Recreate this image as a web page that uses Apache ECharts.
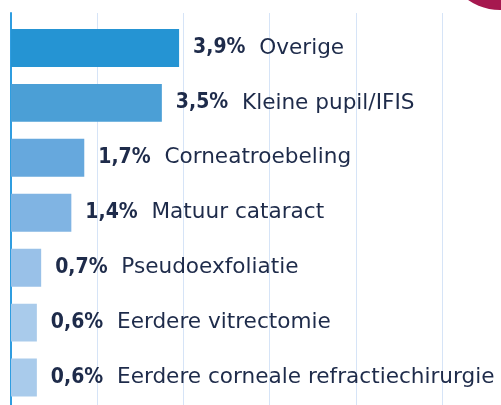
<!DOCTYPE html>
<html>
<head>
<meta charset="utf-8">
<script src="https://cdn.jsdelivr.net/npm/echarts@6/dist/echarts.min.js"></script>
<style>
html,body{margin:0;padding:0;background:#fff;}
#chart{width:501px;height:405px;}
</style>
</head>
<body>
<div id="chart"></div>
<script>
var categories = ['Overige', 'Kleine pupil/IFIS', 'Corneatroebeling', 'Matuur cataract', 'Pseudoexfoliatie', 'Eerdere vitrectomie', 'Eerdere corneale refractiechirurgie'];
var values = [3.9, 3.5, 1.7, 1.4, 0.7, 0.6, 0.6];
var valueLabels = ['3,9%', '3,5%', '1,7%', '1,4%', '0,7%', '0,6%', '0,6%'];
var barColors = ['#2594d3', '#4b9fd6', '#66a8dd', '#80b4e3', '#99c1e8', '#a9cbeb', '#a9cbeb'];
var xTicks = [0, 2, 4, 6, 8, 10];

var chart = echarts.init(document.getElementById('chart'), null, {renderer: 'canvas'});
var textColor = '#1e2b4a';

var data = values.map(function (v, i) {
  return {value: v, itemStyle: {color: barColors[i]}};
});

var option = {
  animation: false,
  grid: [
    {left: 11, right: 59, top: 13, bottom: 0},
    {left: 11, right: 59, top: 20.5, height: 385}
  ],
  xAxis: [
    {
      gridIndex: 0, type: 'value', min: xTicks[0], max: xTicks[xTicks.length - 1], interval: 2,
      axisLine: {show: false}, axisTick: {show: false}, axisLabel: {show: false},
      splitLine: {show: true, lineStyle: {color: '#d6e4f7', width: 1}}
    },
    {
      gridIndex: 1, type: 'value', min: xTicks[0], max: xTicks[xTicks.length - 1], interval: 2,
      show: false, splitLine: {show: false}
    }
  ],
  yAxis: [
    {
      gridIndex: 0, type: 'category', data: [''],
      axisLine: {show: true, lineStyle: {color: '#2f9de0', width: 2}},
      axisTick: {show: false}, axisLabel: {show: false}, splitLine: {show: false}
    },
    {
      gridIndex: 1, type: 'category', data: categories, inverse: true, show: false
    }
  ],
  series: [
    {
      type: 'bar',
      xAxisIndex: 1,
      yAxisIndex: 1,
      data: data,
      barCategoryGap: '31%',
      label: {
        show: true,
        position: 'right',
        distance: 14,
        formatter: function (p) {
          return '{v|' + valueLabels[p.dataIndex] + '}{n|  ' + categories[p.dataIndex] + '}';
        },
        rich: {
          v: {fontFamily: '"DejaVu Sans Condensed", "DejaVu Sans"', fontWeight: 'bold', fontSize: 21, color: textColor},
          n: {fontFamily: '"DejaVu Sans"', fontSize: 21.6, color: textColor}
        }
      }
    }
  ],
  graphic: [
    {
      type: 'circle', shape: {cx: 500, cy: -46, r: 56},
      style: {fill: '#a6184f'}, z: 100
    }
  ]
};
chart.setOption(option);
</script>
</body>
</html>
